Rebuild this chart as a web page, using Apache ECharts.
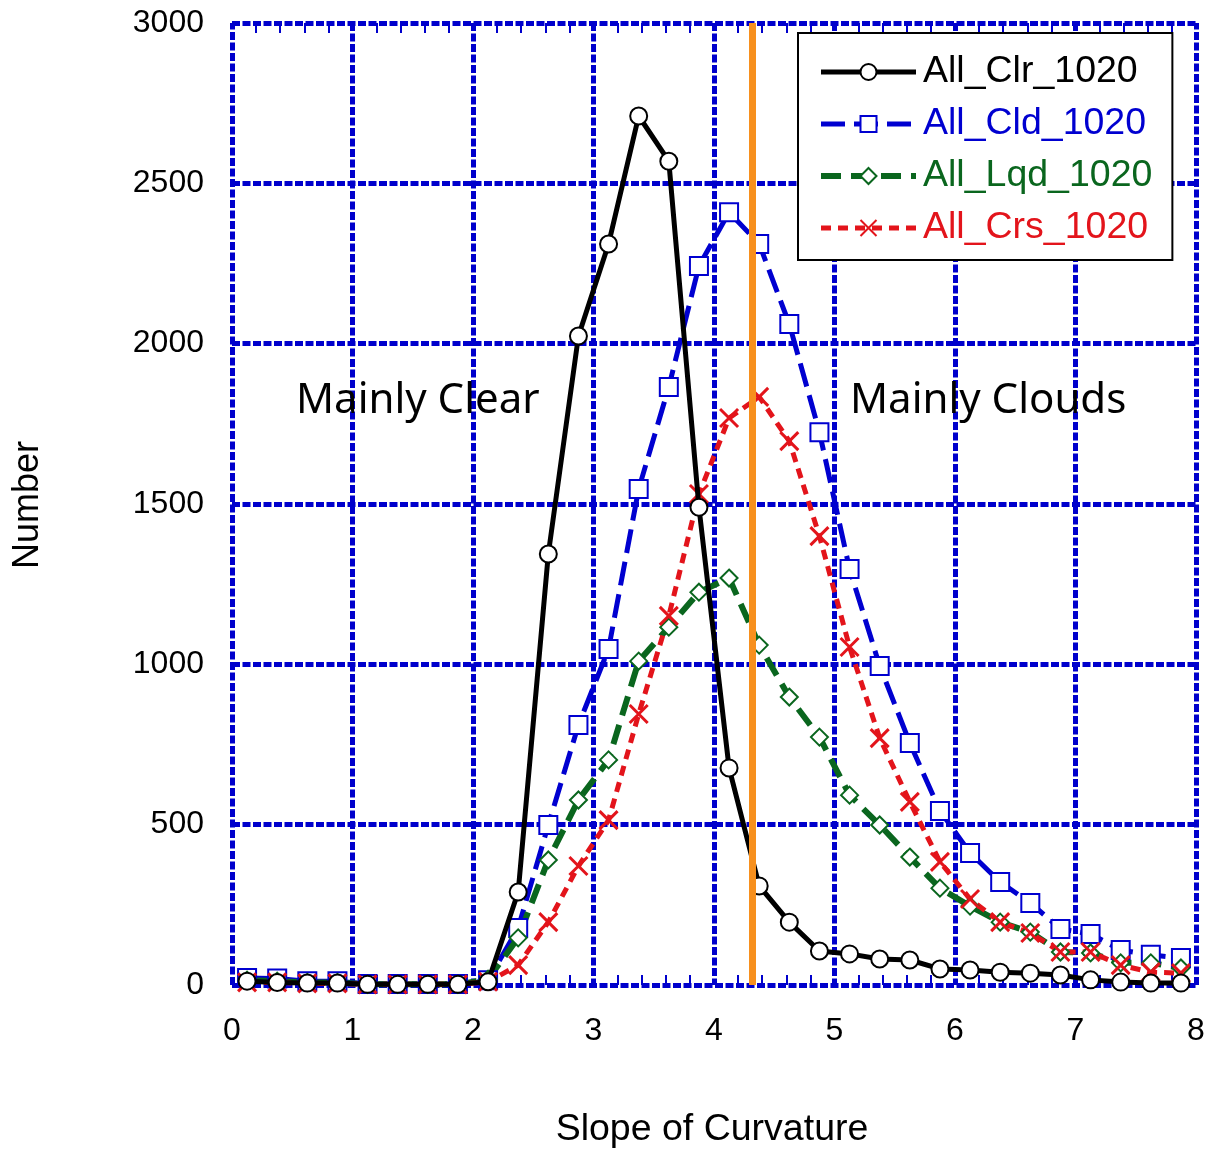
<!DOCTYPE html>
<html>
<head>
<meta charset="utf-8">
<script src="https://cdn.jsdelivr.net/npm/echarts@6/dist/echarts.min.js"></script>
<style>
  html, body { margin: 0; padding: 0; background: #fff; }
  #chart { width: 1211px; height: 1161px; }
</style>
</head>
<body>
<div id="chart"></div>
<script>
// Bin centres of the slope-of-curvature histogram
const binCenters = [0.125, 0.375, 0.625, 0.875, 1.125, 1.375, 1.625, 1.875,
  2.125, 2.375, 2.625, 2.875, 3.125, 3.375, 3.625, 3.875,
  4.125, 4.375, 4.625, 4.875, 5.125, 5.375, 5.625, 5.875,
  6.125, 6.375, 6.625, 6.875, 7.125, 7.375, 7.625, 7.875];

// Counts per bin for each class
const clrCounts = [12, 8, 6, 6, 2, 2, 2, 2,
  10, 290, 1344, 2024, 2311, 2710, 2569, 1490,
  677, 309, 196, 106, 97, 81, 78, 50,
  47, 40, 37, 31, 16, 9, 6, 6];
const cldCounts = [22, 20, 12, 12, 3, 3, 3, 3,
  15, 178, 499, 811, 1048, 1547, 1865, 2242,
  2410, 2311, 2061, 1724, 1297, 995, 755, 543,
  412, 321, 256, 175, 159, 109, 94, 84];
const lqdCounts = [15, 12, 8, 8, 2, 2, 2, 2,
  18, 147, 390, 577, 702, 1010, 1116, 1225,
  1269, 1060, 898, 773, 592, 499, 399, 302,
  246, 196, 165, 103, 100, 69, 69, 53];
const crsCounts = [8, 8, 5, 5, 2, 2, 2, 2,
  10, 62, 196, 371, 514, 845, 1151, 1531,
  1768, 1834, 1696, 1400, 1054, 770, 571, 384,
  268, 196, 162, 103, 103, 62, 40, 37];

const seriesNames = ['All_Clr_1020', 'All_Cld_1020', 'All_Lqd_1020', 'All_Crs_1020'];
const threshold = 4.32;

const yTicks = { min: 0, max: 3000, interval: 500 };
const xTicks = { min: 0, max: 8, interval: 1 };

const gridBlue = '#0000CC';
const colors = ['#000000', '#0000D0', '#0A661E', '#E3141B'];
const lineWidths = [5, 5, 6, 5];
const lineTypes = ['solid', [24, 9], [20, 10], [10, 7]];

const pair = (xs, ys) => xs.map((x, i) => [x, ys[i]]);

const dashedGrid = { color: gridBlue, width: 5, type: [8, 2.5] };
// plot frame: same dash, flat caps so the gaps stay open
const dashedBorder = { color: gridBlue, width: 5, type: [8, 2.5], cap: 'butt' };

function axisBase(extra) {
  return Object.assign({
    type: 'value',
    axisLine: { show: true, onZero: false, lineStyle: dashedBorder },
    axisTick: { show: false, inside: true },
    splitLine: { show: true, showMinLine: false, showMaxLine: false, lineStyle: dashedGrid },
  }, extra);
}

const chart = echarts.init(document.getElementById('chart'), null, { renderer: 'canvas' });

const crossPath = 'path://M0,0L10,10M10,0L0,10';
const labelFont = { fontSize: 32, color: '#000', fontFamily: 'Liberation Sans, Arial' };
const minorTicks = { show: true, splitNumber: 5, length: 10, lineStyle: { color: gridBlue, width: 2 } };

chart.setOption({
  animation: false,
  backgroundColor: '#ffffff',
  grid: { left: 232, right: 15, top: 23, bottom: 176, containLabel: false },
  xAxis: [
    axisBase({
      min: xTicks.min, max: xTicks.max, interval: xTicks.interval,
      position: 'bottom',
      minorTick: minorTicks,
      axisLabel: Object.assign({ margin: 30 }, labelFont)
    }),
    axisBase({
      min: xTicks.min, max: xTicks.max, interval: xTicks.interval,
      position: 'top',
      splitLine: { show: false },
      minorTick: minorTicks,
      axisLabel: { show: false }
    })
  ],
  yAxis: [
    axisBase({
      min: yTicks.min, max: yTicks.max, interval: yTicks.interval,
      position: 'left',
      axisLabel: Object.assign({ margin: 28, formatter: v => String(v) }, labelFont)
    }),
    axisBase({
      min: yTicks.min, max: yTicks.max, interval: yTicks.interval,
      position: 'right',
      splitLine: { show: false },
      axisLabel: { show: false }
    })
  ],
  legend: {
    orient: 'vertical',
    left: 798, top: 33,
    padding: [19, 20, 12, 20],
    backgroundColor: '#ffffff',
    borderColor: '#000000',
    borderWidth: 2,
    borderRadius: 0,
    itemWidth: 95,
    itemHeight: 20,
    itemGap: 12,
    textStyle: { fontSize: 37.5, lineHeight: 40, fontFamily: 'Liberation Sans, Arial', padding: [0, 0, 0, 2] },
    data: seriesNames.map((n, i) => ({
      name: n,
      textStyle: { color: colors[i] },
      lineStyle: { width: lineWidths[i], type: lineTypes[i], color: colors[i] }
    }))
  },
  graphic: [
    {
      type: 'text', left: 296, top: 380, z: 50,
      style: { text: 'Mainly Clear', font: '42px "Noto Sans", sans-serif', fill: '#000' }
    },
    {
      type: 'text', left: 850, top: 380, z: 50,
      style: { text: 'Mainly Clouds', font: '42px "Noto Sans", sans-serif', fill: '#000' }
    },
    {
      type: 'text', x: 28, y: 505, rotation: Math.PI / 2, z: 50,
      style: { text: 'Number', font: '36px "Liberation Sans", Arial', fill: '#000', align: 'center', verticalAlign: 'middle' }
    },
    {
      type: 'text', x: 712, y: 1130, z: 50,
      style: { text: 'Slope of Curvature', font: '37.5px "Liberation Sans", Arial', fill: '#000', align: 'center', verticalAlign: 'middle' }
    }
  ],
  series: [
    {
      name: seriesNames[0], type: 'line', data: pair(binCenters, clrCounts),
      symbol: 'emptyCircle', symbolSize: 17,
      lineStyle: { color: colors[0], width: lineWidths[0], type: lineTypes[0] },
      itemStyle: { color: colors[0], borderColor: colors[0], borderWidth: 2.5 },
      z: 4
    },
    {
      name: seriesNames[1], type: 'line', data: pair(binCenters, cldCounts),
      symbol: 'emptyRect', symbolSize: 18,
      lineStyle: { color: colors[1], width: lineWidths[1], type: lineTypes[1] },
      itemStyle: { color: colors[1], borderColor: colors[1], borderWidth: 2.5 },
      z: 3
    },
    {
      name: seriesNames[2], type: 'line', data: pair(binCenters, lqdCounts),
      symbol: 'emptyDiamond', symbolSize: 17,
      lineStyle: { color: colors[2], width: lineWidths[2], type: lineTypes[2] },
      itemStyle: { color: colors[2], borderColor: colors[2], borderWidth: 2.5 },
      z: 3
    },
    {
      name: seriesNames[3], type: 'line', data: pair(binCenters, crsCounts),
      symbol: crossPath, symbolSize: 18,
      lineStyle: { color: colors[3], width: lineWidths[3], type: lineTypes[3] },
      itemStyle: { color: colors[3], borderColor: colors[3], borderWidth: 3 },
      z: 3,
      markLine: {
        silent: true, symbol: ['none', 'none'], z: 10,
        label: { show: false },
        lineStyle: { color: '#F7901E', width: 7, type: 'solid' },
        data: [{ xAxis: threshold }]
      }
    }
  ]
});
</script>
</body>
</html>
